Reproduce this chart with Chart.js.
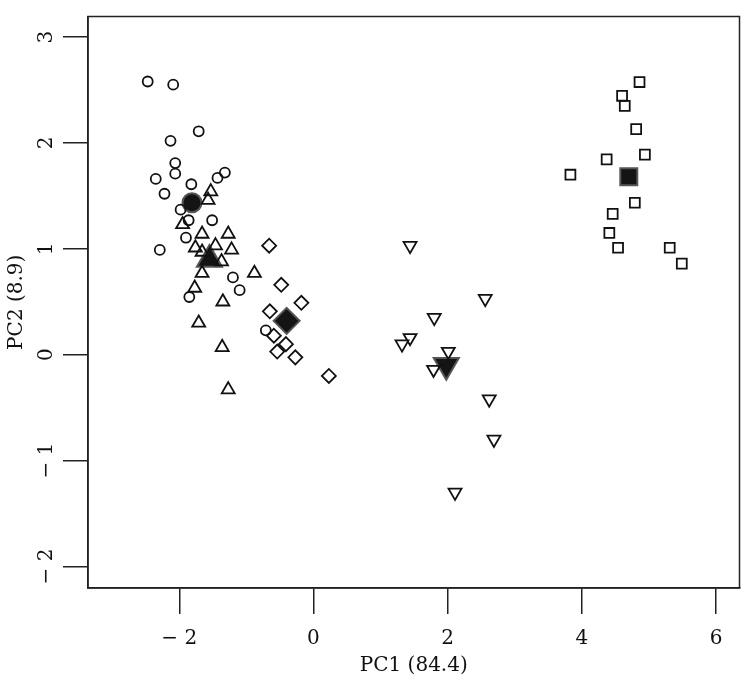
<!DOCTYPE html>
<html>
<head>
<meta charset="utf-8">
<script src="https://cdn.jsdelivr.net/npm/chart.js@4.4.1/dist/chart.umd.min.js"></script>
<style>
  html, body { margin: 0; padding: 0; background: #fff; }
  #wrap { width: 756px; height: 688px; }
</style>
</head>
<body>
<div id="wrap"><canvas id="pca" width="756" height="688"></canvas></div>
<script>
// group scores (PC1, PC2)
const circX = [-2.47, -2.09, -1.71, -2.13, -2.06, -2.06, -2.35, -1.82, -1.43, -1.32, -2.22, -1.98, -1.86, -1.51, -1.90, -2.29, -1.20, -1.10, -1.85, -0.71];
const circY = [2.58, 2.55, 2.11, 2.02, 1.81, 1.71, 1.66, 1.61, 1.67, 1.72, 1.52, 1.37, 1.27, 1.27, 1.105, 0.99, 0.73, 0.61, 0.545, 0.23];

const triX = [-1.53, -1.57, -1.95, -1.66, -1.27, -1.76, -1.46, -1.22, -1.66, -1.37, -1.66, -0.88, -1.77, -1.35, -1.71, -1.36, -1.27];
const triY = [1.54, 1.46, 1.23, 1.14, 1.14, 1.01, 1.03, 0.99, 0.97, 0.88, 0.77, 0.77, 0.63, 0.50, 0.30, 0.07, -0.33];

const diaX = [-0.66, -0.48, -0.18, -0.65, -0.59, -0.41, -0.54, -0.27, 0.23];
const diaY = [1.03, 0.66, 0.49, 0.41, 0.18, 0.10, 0.03, -0.025, -0.20];

const downX = [1.44, 2.56, 1.80, 1.44, 1.32, 2.01, 1.79, 2.62, 2.69, 2.11];
const downY = [1.03, 0.53, 0.35, 0.16, 0.10, 0.03, -0.14, -0.42, -0.80, -1.30];

const sqX = [4.86, 4.60, 4.64, 4.81, 4.94, 4.37, 3.83, 4.79, 4.46, 4.41, 4.54, 5.31, 5.49];
const sqY = [2.575, 2.445, 2.35, 2.13, 1.89, 1.845, 1.70, 1.435, 1.33, 1.15, 1.01, 1.01, 0.86];

// group centroids: circle, triangle, diamond, down triangle, square
const centX = [-1.81, -1.55, -0.40, 1.98, 4.70];
const centY = [1.435, 0.90, 0.32, -0.10, 1.68];

const xTicks = [-2, 0, 2, 4, 6];
const yTicks = [-2, -1, 0, 1, 2, 3];
const xTitle = 'PC1 (84.4)';
const yTitle = 'PC2 (8.9)';

const ink = '#111';
const serif = 'DejaVu Serif';

const pts = (xs, ys) => xs.map((x, i) => ({ x: x, y: ys[i] }));
const fmt = v => v < 0 ? '\u2212 ' + Math.abs(v) : String(v);

function openSet(xs, ys, style, r, rot) {
    return {
        data: pts(xs, ys),
        pointStyle: style,
        pointRadius: r,
        pointRotation: rot || 0,
        pointBackgroundColor: 'rgba(0,0,0,0)',
        pointBorderColor: ink,
        pointBorderWidth: 1.8
    };
}

function centSet(i, style, r, rot) {
    return {
        data: [{ x: centX[i], y: centY[i] }],
        pointStyle: style,
        pointRadius: r,
        pointRotation: rot || 0,
        pointBackgroundColor: '#141414',
        pointBorderColor: '#555',
        pointBorderWidth: 2
    };
}

// top/right sides of the box
const frame = {
    id: 'frame',
    afterDraw(chart) {
        const a = chart.chartArea, c = chart.ctx;
        c.save();
        c.strokeStyle = '#222';
        c.lineWidth = 1.5;
        c.strokeRect(a.left, a.top, a.right - a.left, a.bottom - a.top);
        c.restore();
    }
};

new Chart(document.getElementById('pca'), {
    type: 'scatter',
    data: {
        datasets: [
            openSet(circX, circY, 'circle', 5),
            openSet(triX, triY, 'triangle', 7.5),
            openSet(diaX, diaY, 'rectRot', 7),
            openSet(downX, downY, 'triangle', 7.5, 180),
            openSet(sqX, sqY, 'rect', 7),
            centSet(0, 'circle', 9.5),
            centSet(1, 'triangle', 14.5),
            centSet(2, 'rectRot', 13),
            centSet(3, 'triangle', 14.5, 180),
            centSet(4, 'rect', 12)
        ]
    },
    options: {
        responsive: false,
        devicePixelRatio: 1,
        animation: false,
        layout: { padding: { top: 4, right: 6, left: 0, bottom: 0 } },
        plugins: { legend: { display: false }, tooltip: { enabled: false } },
        scales: {
            x: {
                type: 'linear',
                min: -3.36,
                max: 6.35,
                afterBuildTicks: s => { s.ticks = xTicks.map(v => ({ value: v })); },
                afterFit: s => { s.height = 100; },
                border: { display: true, color: '#222', width: 1.5 },
                grid: { drawOnChartArea: false, drawTicks: true, tickLength: 26, color: '#222', lineWidth: 1.5 },
                ticks: {
                    autoSkip: false, maxRotation: 0, padding: 13, color: ink,
                    font: { family: serif, size: 20 },
                    callback: fmt
                },
                title: {
                    display: true, text: xTitle, color: ink,
                    font: { family: serif, size: 20 },
                    padding: { top: 0, bottom: 10 }
                }
            },
            y: {
                type: 'linear',
                min: -2.203,
                max: 3.194,
                afterBuildTicks: s => { s.ticks = yTicks.map(v => ({ value: v })); },
                afterFit: s => { s.width = 88; },
                border: { display: true, color: '#222', width: 1.5 },
                grid: { drawOnChartArea: false, drawTicks: true, tickLength: 25, color: '#222', lineWidth: 1.5 },
                ticks: {
                    autoSkip: false, minRotation: 90, maxRotation: 90, padding: -2,
                    crossAlign: 'center', color: ink,
                    font: { family: serif, size: 20 },
                    callback: fmt
                },
                title: {
                    display: true, text: yTitle, color: ink,
                    font: { family: serif, size: 20 },
                    padding: { top: 5, bottom: 0 }
                }
            }
        }
    },
    plugins: [frame]
});
</script>
</body>
</html>
